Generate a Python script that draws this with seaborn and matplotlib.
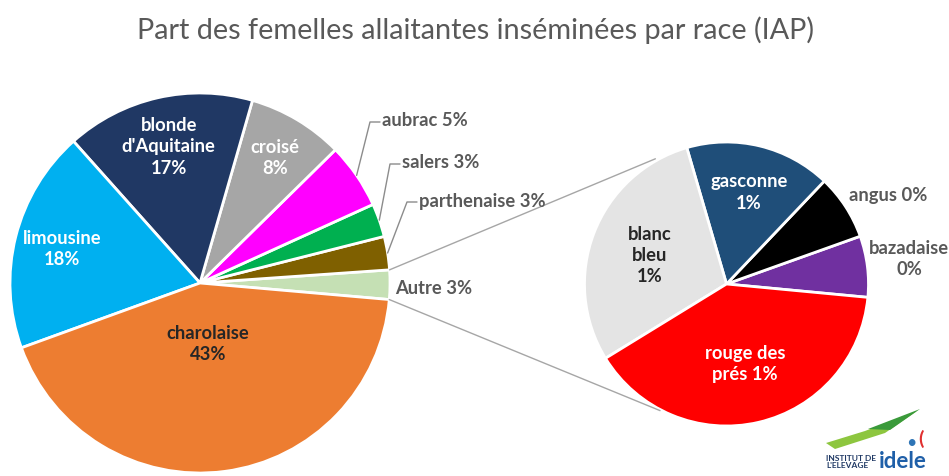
import numpy as np
import matplotlib
matplotlib.use("Agg")
import matplotlib.pyplot as plt
from matplotlib.patches import Polygon
import seaborn as sns

# main pie, counterclockwise starting from "Autre"
main_names = ["Autre", "parthenaise", "salers", "aubrac", "croisé",
              "blonde\nd'Aquitaine", "limousine", "charolaise"]
main_values = [2.5, 2.85, 2.85, 5.6, 8.2, 16.1, 19.0, 43.2]
main_labels = ["3%", "3%", "3%", "5%", "8%", "17%", "18%", "43%"]
main_colors = ["#C5E0B4", "#7F6000", "#00B050", "#FF00FF", "#A6A6A6",
               "#203864", "#00B0F0", "#ED7D31"]

# detail pie of "Autre", counterclockwise starting from "bazadaise"
sub_names = ["bazadaise", "angus", "gasconne", "blanc\nbleu", "rouge des\nprés"]
sub_values = [0.174, 0.186, 0.415, 0.731, 0.993]
sub_labels = ["0%", "0%", "1%", "1%", "1%"]
sub_colors = ["#7030A0", "#000000", "#1F4E79", "#E4E4E4", "#FF0000"]

W, H = 949, 477
sns.set_theme(style="white")
plt.rcParams['font.family'] = ['Lato', 'DejaVu Sans']

fig = plt.figure(figsize=(W / 100, H / 100), dpi=100)
ax = fig.add_axes([0, 0, 1, 1])


def Y(y):
    return H - y


main_c = (200, Y(284))
main_r = 190
sub_c = (726.5, Y(285))
sub_r = 142

wp = dict(edgecolor="white", linewidth=2)
main_w, _ = ax.pie(main_values, colors=main_colors, startangle=-5.0,
                   counterclock=True, center=main_c, radius=main_r,
                   wedgeprops=wp, frame=True)
sub_w, _ = ax.pie(sub_values, colors=sub_colors, startangle=-5.4,
                  counterclock=True, center=sub_c, radius=sub_r,
                  wedgeprops=wp, frame=True)


def polar(c, r, ang):
    a = np.deg2rad(ang)
    return c[0] + r * np.cos(a), c[1] + r * np.sin(a)


def mid(w):
    return (w.theta1 + w.theta2) / 2


FS = 13.2
bold = dict(fontsize=FS, fontweight="bold", ha="center", va="center",
            linespacing=1.3)

# labels inside the main pie
inside_main = {4: (0.77, "white"), 5: (0.74, "white"),
               6: (0.75, "white"), 7: (0.32, "#262626")}
for i, (rf, col) in inside_main.items():
    x, y = polar(main_c, rf * main_r, mid(main_w[i]))
    ax.text(x, y, f"{main_names[i]}\n{main_labels[i]}", color=col, **bold)

# outside labels with leader lines
lead = {3: ((370, 123), (380, 123)), 2: ((390, 165), (400, 165)),
        1: ((407, 203), (417, 203))}
for i, (elbow, end) in lead.items():
    sx, sy = polar(main_c, main_r, mid(main_w[i]))
    ax.plot([sx, elbow[0], end[0]], [sy, Y(elbow[1]), Y(end[1])],
            color="#8C8C8C", lw=1)
    ax.text(end[0] + 2, Y(end[1] - 2), f"{main_names[i]} {main_labels[i]}",
            color="#595959", fontsize=FS, fontweight="bold",
            ha="left", va="center")
ax.text(395, Y(289), f"{main_names[0]} {main_labels[0]}", color="#595959",
        fontsize=FS, fontweight="bold", ha="left", va="center")

# labels of the detail pie
inside_sub = {2: (0.67, "white"), 3: (0.58, "#262626"), 4: (0.57, "white")}
for i, (rf, col) in inside_sub.items():
    x, y = polar(sub_c, rf * sub_r, mid(sub_w[i]))
    if i == 4:
        txt = f"{sub_names[i]} {sub_labels[i]}"
    else:
        txt = f"{sub_names[i]}\n{sub_labels[i]}"
    ax.text(x, y, txt, color=col, **bold)
ax.text(849, Y(195), f"{sub_names[1]} {sub_labels[1]}", color="#595959",
        fontsize=FS, fontweight="bold", ha="left", va="center")
ax.text(909, Y(259), f"{sub_names[0]}\n{sub_labels[0]}", color="#595959",
        **bold)

# connector lines between the "Autre" slice and the detail pie
aw = main_w[0]
p1 = polar(main_c, main_r, aw.theta2)
p2 = polar(main_c, main_r, aw.theta1)
q1 = polar(sub_c, sub_r + 2, 119.6)
q2 = polar(sub_c, sub_r + 1, 242.3)
ax.plot([p1[0], q1[0]], [p1[1], q1[1]], color="#A6A6A6", lw=1)
ax.plot([p2[0], q2[0]], [p2[1], q2[1]], color="#A6A6A6", lw=1)

ax.text(W / 2 + 1, Y(30), "Part des femelles allaitantes inséminées par race (IAP)",
        color="#595959", fontsize=20.8, ha="center", va="center")

# institute logo (approximation)
ax.add_patch(Polygon([(826, Y(444)), (865, Y(432)), (917, Y(412)),
                      (885, Y(434)), (835, Y(450))],
                     closed=True, color="#8DC63F", lw=0))
ax.add_patch(Polygon([(868, Y(430)), (920, Y(410)), (890, Y(431))],
                     closed=True, color="#3A9A3A", lw=0))
ax.text(921, Y(439), "(", color="#E03030", fontsize=14, fontweight="bold",
        ha="center", va="center")
ax.text(911, Y(443), "•", color="#2E75B6", fontsize=13, ha="center",
        va="center")
ax.text(826, Y(462), "INSTITUT DE\nL'ELEVAGE", color="#1F3864", fontsize=6,
        fontweight="bold", ha="left", va="center", linespacing=1.1)
ax.text(879, Y(462), "idele", color="#1F5FA8", fontsize=16, fontweight="bold",
        ha="left", va="center")

ax.set_xlim(0, W)
ax.set_ylim(0, H)
ax.set_aspect("equal")
ax.axis("off")

fig.savefig("out.png", dpi=100, facecolor="white")
